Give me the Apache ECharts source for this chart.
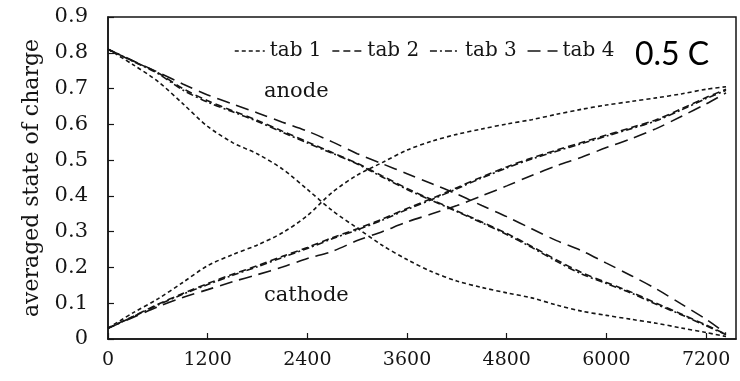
<!DOCTYPE html>
<html>
<head>
<meta charset="utf-8">
<script src="https://cdn.jsdelivr.net/npm/echarts@6/dist/echarts.min.js"></script>
<style>
  html, body { margin: 0; padding: 0; background: #fff; }
  #chart { width: 740px; height: 381px; }
</style>
</head>
<body>
<div id="chart"></div>
<script>
// Time in seconds
const times = [0, 300, 600, 900, 1200, 1500, 1800, 2100, 2400, 2700, 3000, 3300, 3600,
  3900, 4200, 4500, 4800, 5100, 5400, 5700, 6000, 6300, 6600, 6900, 7200, 7440];

// Averaged state of charge, anode side
const anodeTab1 = [0.81, 0.767, 0.72, 0.658, 0.594, 0.549, 0.517, 0.475, 0.418, 0.359, 0.31, 0.262, 0.222,
  0.188, 0.162, 0.144, 0.129, 0.115, 0.095, 0.078, 0.066, 0.055, 0.044, 0.031, 0.018, 0.007];
const anodeTab2 = [0.81, 0.777, 0.744, 0.700, 0.666, 0.638, 0.611, 0.581, 0.551, 0.521, 0.491, 0.456, 0.421,
  0.389, 0.358, 0.327, 0.295, 0.259, 0.221, 0.186, 0.158, 0.131, 0.100, 0.070, 0.039, 0.013];
const anodeTab3 = [0.81, 0.776, 0.742, 0.696, 0.662, 0.635, 0.608, 0.578, 0.548, 0.519, 0.489, 0.453, 0.418,
  0.387, 0.356, 0.325, 0.292, 0.256, 0.217, 0.182, 0.155, 0.128, 0.097, 0.068, 0.037, 0.012];
const anodeTab4 = [0.81, 0.778, 0.746, 0.713, 0.682, 0.657, 0.632, 0.606, 0.581, 0.551, 0.518, 0.49, 0.462,
  0.434, 0.405, 0.373, 0.342, 0.308, 0.275, 0.247, 0.212, 0.177, 0.14, 0.098, 0.055, 0.015];

// Averaged state of charge, cathode side
const cathodeTab1 = [0.03, 0.073, 0.112, 0.158, 0.205, 0.236, 0.263, 0.297, 0.345, 0.41, 0.458, 0.493, 0.528,
  0.553, 0.572, 0.587, 0.601, 0.613, 0.628, 0.642, 0.654, 0.664, 0.674, 0.685, 0.698, 0.705];
const cathodeTab2 = [0.03, 0.063, 0.097, 0.127, 0.155, 0.181, 0.205, 0.231, 0.256, 0.283, 0.308, 0.335, 0.365,
  0.393, 0.423, 0.453, 0.481, 0.506, 0.528, 0.549, 0.57, 0.591, 0.613, 0.643, 0.675, 0.698];
const cathodeTab3 = [0.03, 0.062, 0.095, 0.125, 0.152, 0.178, 0.202, 0.228, 0.253, 0.28, 0.305, 0.332, 0.362,
  0.39, 0.42, 0.45, 0.478, 0.503, 0.525, 0.546, 0.567, 0.588, 0.61, 0.64, 0.672, 0.695];
const cathodeTab4 = [0.03, 0.06, 0.09, 0.116, 0.138, 0.16, 0.18, 0.201, 0.225, 0.245, 0.275, 0.3, 0.327,
  0.35, 0.373, 0.4, 0.428, 0.457, 0.484, 0.508, 0.535, 0.56, 0.588, 0.622, 0.657, 0.688];

const tabNames = ['tab 1', 'tab 2', 'tab 3', 'tab 4'];
const xTicks = [0, 1200, 2400, 3600, 4800, 6000, 7200];

const serif = 'DejaVu Serif';
const ink = '#151515';

// dash pattern per tab
const dashes = [[4, 3], [7, 4], [7, 3, 2, 3], [13, 7]];

const pairs = vals => times.map((t, i) => [t, vals[i]]);
const curves = [
  [anodeTab1, cathodeTab1],
  [anodeTab2, cathodeTab2],
  [anodeTab3, cathodeTab3],
  [anodeTab4, cathodeTab4]
];

const series = [];
curves.forEach((pair, k) => {
  pair.forEach(vals => {
    series.push({
      name: tabNames[k],
      type: 'line',
      data: pairs(vals),
      smooth: 0.3,
      symbol: 'none',
      lineStyle: { color: ink, width: 1.6, type: dashes[k] },
      itemStyle: { color: ink },
      z: 3
    });
  });
});

const chart = echarts.init(document.getElementById('chart'), null, { renderer: 'canvas' });
chart.setOption({
  animation: false,
  backgroundColor: '#fff',
  grid: {
    left: 108, right: 4, top: 17, bottom: 42,
    show: true, borderColor: ink, borderWidth: 1.5, backgroundColor: 'transparent'
  },
  legend: {
    data: tabNames,
    left: 229, top: 36,
    itemWidth: 30, itemHeight: 14, itemGap: 10,
    selectedMode: false,
    itemStyle: { color: 'transparent', borderWidth: 0, opacity: 0 },
    lineStyle: { width: 1.5 },
    textStyle: { fontFamily: serif, fontSize: 20, color: ink }
  },
  xAxis: {
    type: 'value',
    min: 0, max: 7560, interval: 1200,
    axisLine: { show: true, lineStyle: { color: ink, width: 1.5 } },
    axisTick: { show: true, inside: true, length: 6, lineStyle: { color: ink, width: 1.2 } },
    splitLine: { show: false },
    axisLabel: {
      showMaxLabel: false,
      margin: 12,
      fontFamily: serif, fontSize: 19, color: ink,
      formatter: v => (xTicks.indexOf(v) >= 0 ? String(v) : '')
    }
  },
  yAxis: {
    type: 'value',
    min: 0, max: 0.9, interval: 0.1,
    name: 'averaged state of charge',
    nameLocation: 'middle',
    nameGap: 62,
    nameTextStyle: { fontFamily: serif, fontSize: 22, color: ink },
    axisLine: { show: true, lineStyle: { color: ink, width: 1.5 } },
    axisTick: { show: true, inside: true, length: 6, lineStyle: { color: ink, width: 1.2 } },
    splitLine: { show: false },
    axisLabel: {
      margin: 20,
      fontFamily: serif, fontSize: 21, color: ink,
      formatter: v => String(Math.round(v * 10) / 10)
    }
  },
  graphic: [
    { type: 'text', left: 264, top: 81, style: { text: 'anode', fontFamily: serif, fontSize: 21, fill: ink } },
    { type: 'text', left: 264, top: 285, style: { text: 'cathode', fontFamily: serif, fontSize: 21, fill: ink } },
    { type: 'text', left: 635, top: 39, style: { text: '0.5 C', fontFamily: 'Lato', fontSize: 32, fill: '#000' } }
  ],
  series: series
});
</script>
</body>
</html>
